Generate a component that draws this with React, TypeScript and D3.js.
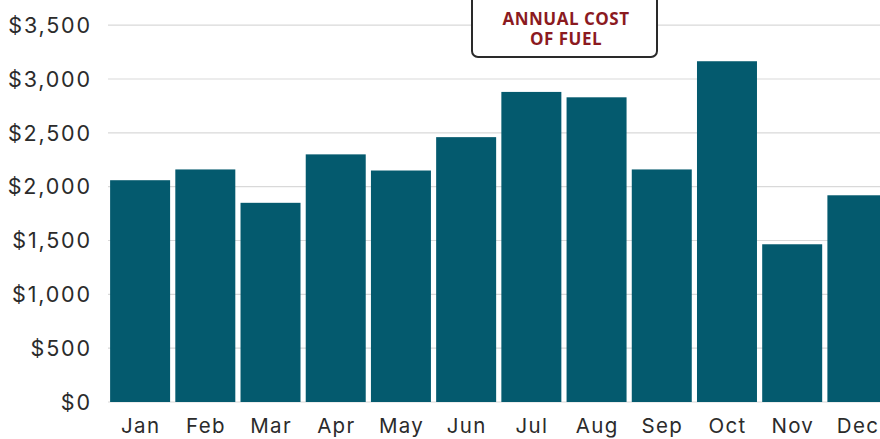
import React from "react";
import * as d3 from "d3";

const months = ["Jan", "Feb", "Mar", "Apr", "May", "Jun", "Jul", "Aug", "Sep", "Oct", "Nov", "Dec"];
const costs = [2060, 2160, 1850, 2300, 2150, 2460, 2880, 2830, 2160, 3165, 1465, 1920];
const yTicks = [0, 500, 1000, 1500, 2000, 2500, 3000, 3500];
const titleLines = ["ANNUAL COST", "OF FUEL"];

const W = 880;
const H = 439;

export default function App() {
  const x = d3.scaleBand<string>().domain(months).range([107.5, 890]).paddingInner(0.08).paddingOuter(0.04);
  const y = d3.scaleLinear().domain([0, 3000]).range([402, 79]);
  const fmt = (v: number) => "$" + d3.format(",")(v);
  const font = "Inter, 'Noto Sans', sans-serif";

  return (
    <svg width={W} height={H} style={{ position: "absolute", left: 0, top: 0, background: "#fff" }}>
      {yTicks.map((t) => (
        <g key={t}>
          <line x1={108} x2={W} y1={y(t)} y2={y(t)} stroke="#d9d9d9" strokeWidth={1.2} />
          <text x={91.8} y={y(t)} dy="0.36em" textAnchor="end" fontFamily={font} fontSize={21.5} letterSpacing={1.8} fill="#2b2b2b">
            {fmt(t)}
          </text>
        </g>
      ))}
      {months.map((m, i) => (
        <rect key={m} x={x(m)} y={y(costs[i])} width={x.bandwidth()} height={y(0) - y(costs[i])} fill="#045a6e" />
      ))}
      {months.map((m) => (
        <text key={m} x={(x(m) as number) + x.bandwidth() / 2 + 0.6} y={432.5} textAnchor="middle" fontFamily={font} fontSize={20.5} letterSpacing={1.3} fill="#2b2b2b">
          {m}
        </text>
      ))}
      <rect x={472} y={-10} width={185} height={67} rx={6} ry={6} fill="#fff" stroke="#2a2a2a" strokeWidth={2} />
      <text x={566} y={24.5} textAnchor="middle" fontFamily="'Open Sans', sans-serif" fontWeight={700} fontSize={17} letterSpacing={0.5} fill="#8b1a1f">
        {titleLines.map((l, i) => (
          <tspan key={l} x={566} dy={i === 0 ? 0 : 20.5}>
            {l}
          </tspan>
        ))}
      </text>
    </svg>
  );
}
